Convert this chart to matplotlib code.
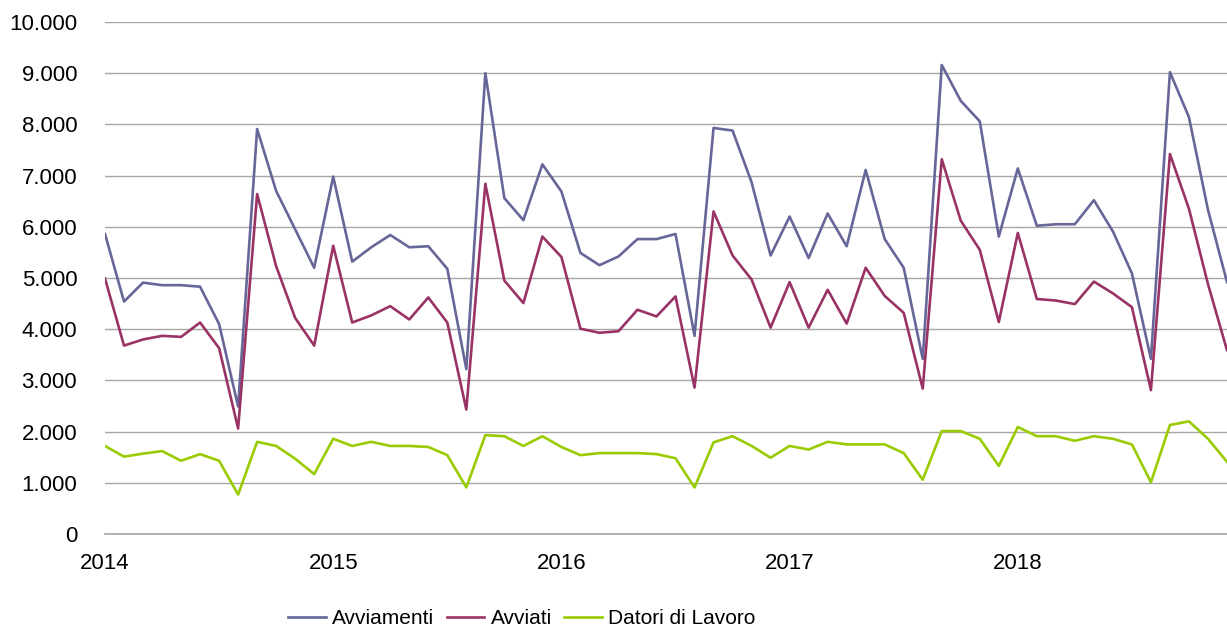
import matplotlib
matplotlib.use("Agg")
from matplotlib import pyplot as plt
from matplotlib.ticker import FuncFormatter
import numpy as np

# monthly values, Jan 2014 - Dec 2018
anni = ["2014", "2015", "2016", "2017", "2018"]

avviamenti = [5860, 4540, 4910, 4860, 4860, 4830, 4100, 2490, 7910, 6700, 5950, 5200,
              6980, 5320, 5600, 5840, 5600, 5620, 5180, 3220, 9000, 6560, 6130, 7220,
              6690, 5490, 5250, 5420, 5760, 5760, 5860, 3870, 7930, 7880, 6870, 5440,
              6200, 5390, 6260, 5620, 7110, 5760, 5200, 3420, 9160, 8460, 8060, 5810,
              7140, 6020, 6050, 6050, 6520, 5910, 5090, 3420, 9020, 8140, 6330, 4920]

avviati = [4990, 3680, 3800, 3870, 3850, 4130, 3630, 2060, 6640, 5230, 4220, 3680,
           5630, 4130, 4270, 4450, 4190, 4620, 4130, 2430, 6840, 4950, 4510, 5810,
           5410, 4010, 3930, 3960, 4380, 4250, 4640, 2860, 6300, 5440, 4970, 4030,
           4920, 4030, 4770, 4110, 5200, 4650, 4320, 2840, 7320, 6120, 5550, 4140,
           5880, 4590, 4560, 4490, 4930, 4700, 4430, 2810, 7420, 6350, 4880, 3590]

datori = [1720, 1510, 1570, 1620, 1430, 1560, 1430, 770, 1800, 1720, 1470, 1170,
          1860, 1720, 1800, 1720, 1720, 1700, 1540, 910, 1930, 1910, 1720, 1910,
          1700, 1540, 1580, 1580, 1580, 1560, 1480, 910, 1790, 1910, 1720, 1490,
          1720, 1650, 1800, 1750, 1750, 1750, 1580, 1060, 2010, 2010, 1860, 1330,
          2090, 1910, 1910, 1820, 1910, 1860, 1750, 1010, 2130, 2200, 1860, 1410]

plt.rcParams['font.family'] = ['Liberation Sans', 'DejaVu Sans']

fig = plt.figure(figsize=(12.27, 6.28), dpi=100)
ax = fig.add_axes([105/1227, 1-534/628, 1-105/1227, 512/628])

mesi = np.arange(len(avviamenti))
ax.plot(mesi, avviamenti, color='#666699', lw=1.9, label='Avviamenti')
ax.plot(mesi, avviati, color='#993366', lw=1.9, label='Avviati')
ax.plot(mesi, datori, color='#99CC00', lw=1.9, label='Datori di Lavoro')

ax.set_xlim(0, len(mesi) - 1)
ax.set_ylim(0, 10000)
ax.set_yticks(np.arange(0, 10001, 1000))
ax.yaxis.set_major_formatter(FuncFormatter(lambda v, p: f"{int(v):,}".replace(",", ".")))
ax.set_xticks(np.arange(0, len(mesi), 12))
ax.set_xticklabels(anni)
ax.set_axisbelow(True)
ax.grid(axis='y', color='#a6a6a6', lw=1.0)
ax.axhline(0, color='#a6a6a6', lw=1.2, clip_on=False, zorder=0)
for s in ax.spines.values():
    s.set_visible(False)
ax.tick_params(axis='both', length=0, labelsize=16, colors='black')
ax.tick_params(axis='y', pad=20)
ax.tick_params(axis='x', pad=14)

fig.legend(loc='center', bbox_to_anchor=(522/1227, 1-619/628), ncol=3, frameon=False,
           fontsize=15, handlelength=1.8, handletextpad=0.3, columnspacing=0.6)

fig.savefig("out.png", dpi=100)
